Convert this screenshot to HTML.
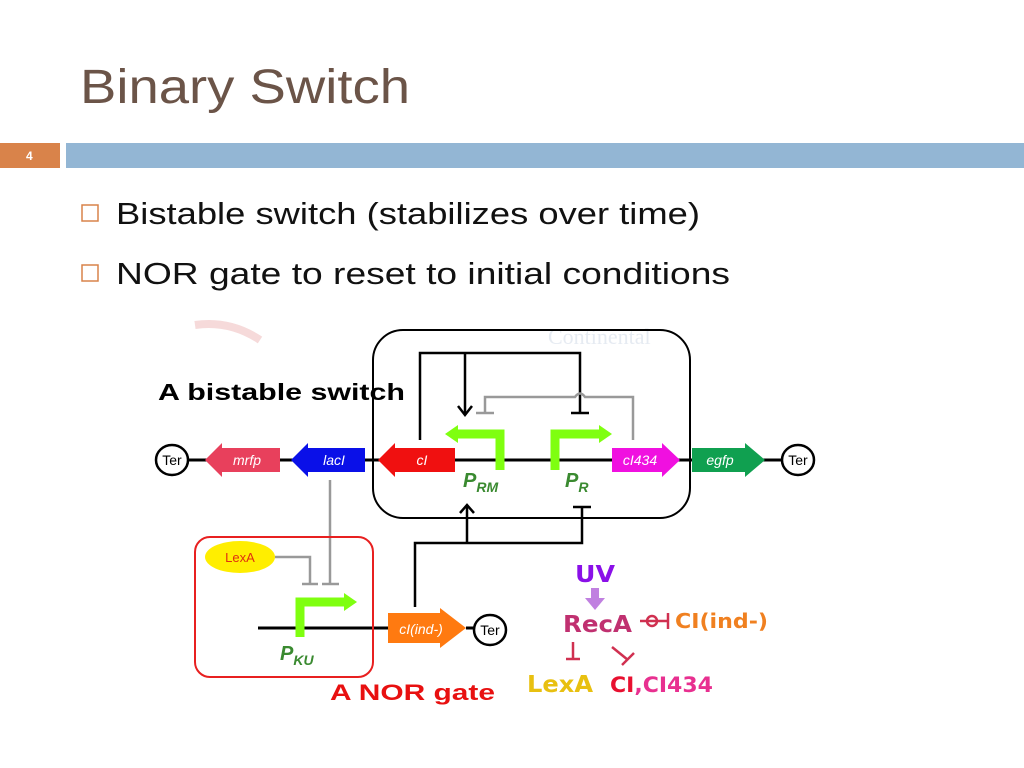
<!DOCTYPE html>
<html><head><meta charset="utf-8"><style>
html,body{margin:0;padding:0;background:#fff;width:1024px;height:768px;overflow:hidden}
svg{display:block}
</style></head><body>
<svg width="1024" height="768" viewBox="0 0 1024 768" xmlns="http://www.w3.org/2000/svg" font-family="Liberation Sans, sans-serif">
<text x="80" y="103" font-size="48" fill="#6b5448" textLength="330" lengthAdjust="spacingAndGlyphs">Binary Switch</text>
<rect x="0" y="143" width="60" height="25" fill="#d9834a"/>
<text x="26" y="160" font-size="12" font-weight="bold" fill="#fff">4</text>
<rect x="66" y="143" width="958" height="25" fill="#93b6d4"/>
<rect x="82" y="205" width="16" height="16" fill="none" stroke="#d9834a" stroke-width="1.5"/>
<text x="116" y="224" font-size="31" fill="#111" textLength="584" lengthAdjust="spacingAndGlyphs">Bistable switch (stabilizes over time)</text>
<rect x="82" y="265" width="16" height="16" fill="none" stroke="#d9834a" stroke-width="1.5"/>
<text x="116" y="284" font-size="31" fill="#111" textLength="614" lengthAdjust="spacingAndGlyphs">NOR gate to reset to initial conditions</text>

<!-- faded background -->
<text x="548" y="344" font-size="22" font-family="Liberation Serif, serif" fill="#e6ebf2">Continental</text>
<path d="M195 325 Q230 320 260 340" stroke="#f6dada" stroke-width="8" fill="none"/>

<!-- black rounded box -->
<rect x="373" y="330" width="317" height="188" rx="30" fill="none" stroke="#000" stroke-width="2"/>
<text x="158" y="400" font-size="23" font-weight="bold" fill="#000" textLength="247" lengthAdjust="spacingAndGlyphs">A bistable switch</text>

<!-- main line -->
<line x1="172" y1="460" x2="798" y2="460" stroke="#000" stroke-width="3"/>
<g fill="#fff" stroke="#000" stroke-width="2.5">
<ellipse cx="172" cy="460" rx="16" ry="15"/><ellipse cx="798" cy="460" rx="16" ry="15"/><ellipse cx="490" cy="630" rx="16" ry="15"/>
</g>
<g font-size="14" text-anchor="middle" fill="#000">
<text x="172" y="465">Ter</text><text x="798" y="465">Ter</text><text x="490" y="635">Ter</text>
</g>
<!-- NOR line and orange gene (drawn before labels) -->
<line x1="258" y1="628" x2="388" y2="628" stroke="#000" stroke-width="3"/>
<line x1="466" y1="628" x2="474" y2="628" stroke="#000" stroke-width="3"/>
<polygon points="388,613 440,613 440,608 466,628 440,648 440,643 388,643" fill="#ff7a10"/>
<!-- gene arrows -->
<polygon points="205,460 222,443 222,448 280,448 280,472 222,472 222,477" fill="#e8405c"/>
<polygon points="291,460 308,443 308,448 365,448 365,472 308,472 308,477" fill="#0a10e8"/>
<polygon points="378,460 395,443 395,448 455,448 455,472 395,472 395,477" fill="#f01010"/>
<polygon points="612,448 662,448 662,443 680,460 662,477 662,472 612,472" fill="#f010e0"/>
<polygon points="692,448 745,448 745,443 765,460 745,477 745,472 692,472" fill="#10a050"/>
<g font-size="14" font-style="italic" fill="#fff" text-anchor="middle">
<text x="247" y="465">mrfp</text><text x="334" y="465">lacI</text><text x="422" y="465">cI</text><text x="640" y="465">cI434</text><text x="720" y="465">egfp</text>
<text x="421" y="634">cI(ind-)</text>
</g>
<!-- promoters -->
<g fill="none" stroke="#7fff10" stroke-width="9">
<path d="M500 470 V434 H455"/>
<path d="M555 470 V434 H600"/>
<path d="M300 637 V602 H345"/>
</g>
<g fill="#7fff10">
<polygon points="445,434 458,425 458,443"/>
<polygon points="612,434 599,425 599,443"/>
<polygon points="357,602 344,593 344,611"/>
</g>
<g fill="#3a8a30" font-weight="bold" font-style="italic">
<text x="463" y="487" font-size="20">P<tspan font-size="14" dy="5">RM</tspan></text>
<text x="565" y="487" font-size="20">P<tspan font-size="14" dy="5">R</tspan></text>
<text x="280" y="660" font-size="20">P<tspan font-size="14" dy="5">KU</tspan></text>
</g>
<!-- black regulation -->
<g fill="none" stroke="#000" stroke-width="2.5">
<path d="M420 440 V353 H580 V412"/>
<line x1="571" y1="413" x2="589" y2="413"/>
<line x1="465" y1="353" x2="465" y2="414"/>
<path d="M458 406 L465 415 L472 406"/>
<path d="M415 607 V543 H582 V507"/>
<line x1="573" y1="507" x2="591" y2="507"/>
<line x1="467" y1="543" x2="467" y2="505"/>
<path d="M460 513 L467 505 L474 513"/>
</g>
<!-- gray regulation -->
<g fill="none" stroke="#999" stroke-width="2.5">
<path d="M633 440 V397 H585 Q580 390 575 397 H485 V412"/>
<line x1="476" y1="413" x2="494" y2="413"/>
<path d="M330 480 V583"/><line x1="322" y1="584" x2="339" y2="584"/>
<path d="M275 557 H310 V583"/><line x1="302" y1="584" x2="318" y2="584"/>
</g>
<!-- NOR box -->
<rect x="195" y="537" width="178" height="140" rx="15" fill="none" stroke="#e82020" stroke-width="2"/>
<ellipse cx="240" cy="557" rx="35" ry="16" fill="#ffee00"/>
<text x="240" y="562" font-size="13" fill="#e03010" text-anchor="middle">LexA</text>
<text x="330" y="700" font-size="22" font-weight="bold" fill="#e81010" textLength="165" lengthAdjust="spacingAndGlyphs">A NOR gate</text>

<!-- UV/RecA -->
<g font-family="DejaVu Sans, sans-serif" font-weight="bold">
<text x="575" y="582" font-size="23" fill="#8a10e8" textLength="40" lengthAdjust="spacingAndGlyphs">UV</text>
<rect x="591" y="588" width="8" height="12" fill="#c080e0"/><polygon points="585,598 605,598 595,610" fill="#c080e0"/>
<text x="563" y="632" font-size="23" fill="#c03070" textLength="69" lengthAdjust="spacingAndGlyphs">RecA</text>
<g stroke="#d03050" stroke-width="2.5" fill="none">
<line x1="640" y1="621" x2="668" y2="621"/><line x1="668" y1="613" x2="668" y2="629"/><circle cx="652" cy="621" r="5"/>
<line x1="573" y1="642" x2="573" y2="658"/><line x1="566" y1="659" x2="580" y2="659"/>
<line x1="612" y1="647" x2="628" y2="660"/><line x1="622" y1="665" x2="634" y2="653"/>
</g>
<text x="675" y="628" font-size="20" fill="#f08020" textLength="93" lengthAdjust="spacingAndGlyphs">CI(ind-)</text>
<text x="527" y="692" font-size="23" fill="#e8c010" textLength="66" lengthAdjust="spacingAndGlyphs">LexA</text>
<text x="610" y="692" font-size="21" fill="#e81030" textLength="103" lengthAdjust="spacingAndGlyphs">CI<tspan fill="#e83090">,CI434</tspan></text>
</g>
</svg>
</body></html>
